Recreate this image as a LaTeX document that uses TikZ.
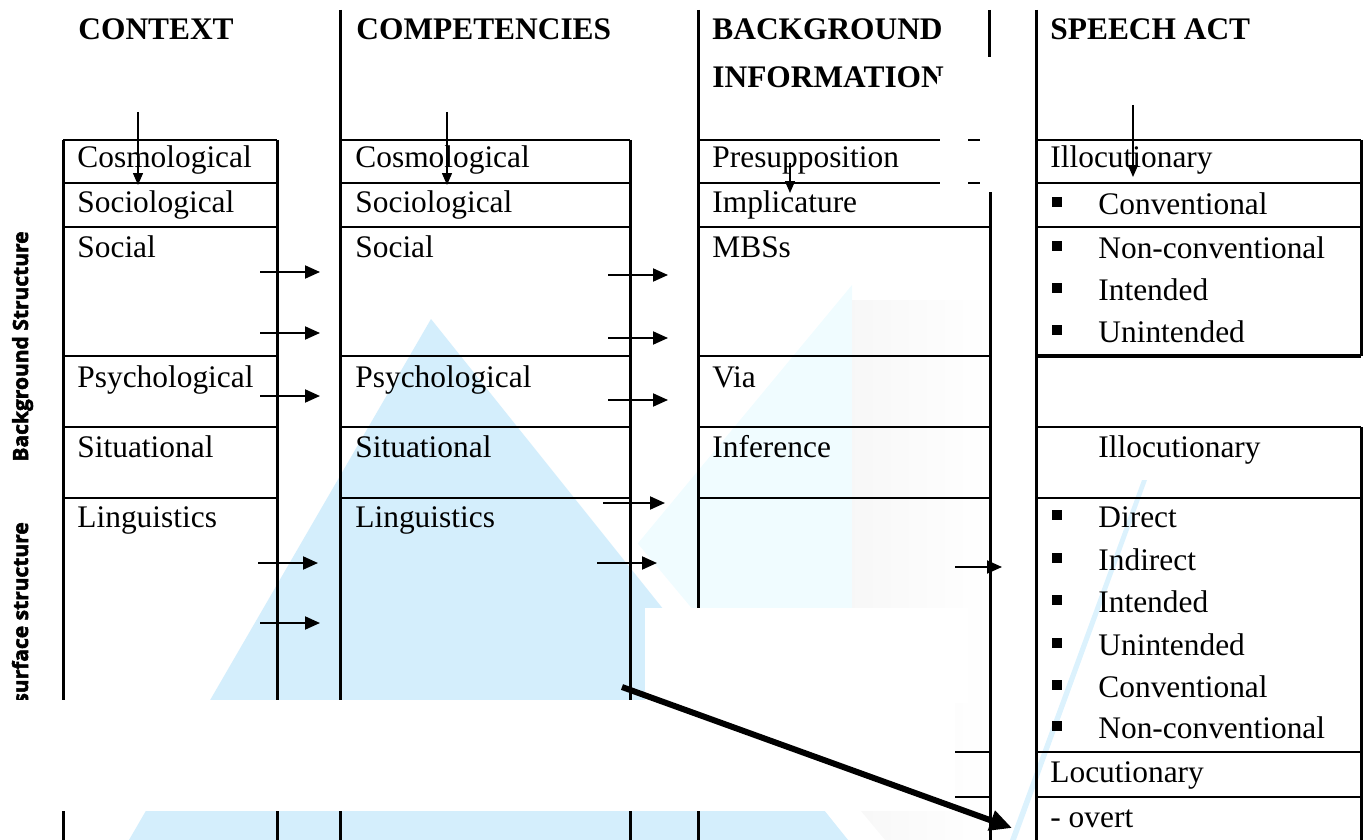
\documentclass[tikz,border=0pt]{standalone}
\usepackage{fontspec}
\setmainfont{Liberation Serif}
\newfontfamily\labelfont[BoldFeatures={FakeBold=2.5}]{Open Sans}
\usetikzlibrary{arrows.meta}

\definecolor{wmblue}{HTML}{D4EEFC}
\definecolor{wmpale}{HTML}{F0FCFF}
\definecolor{wmstripe}{HTML}{DCF2FD}

\tikzset{
  grid/.style={line width=1.5pt},
  hline/.style={line width=1.3pt},
  harrow/.style={line width=1pt, -{Triangle[length=7.5pt,width=6.5pt]}},
  varrow/.style={line width=0.7pt, -{Triangle[length=6pt,width=5pt]}},
  bigarrow/.style={line width=3pt, -{Triangle[length=11pt,width=10pt]}},
  cell/.style={anchor=base west, inner sep=0pt, font=\fontsize{15.7}{18}\selectfont},
  headtext/.style={anchor=base west, inner sep=0pt, font=\fontsize{15.7}{18}\selectfont\bfseries},
  side/.style={anchor=base west, inner sep=0pt, rotate=90,
    font=\labelfont\bfseries\fontsize{10.5}{12}\selectfont},
  bul/.style={fill=black, inner sep=0pt, minimum size=5pt}
}

\begin{document}
\begin{tikzpicture}[x=0.5pt,y=-0.5pt]
\useasboundingbox (0,0) rectangle (1365,840);

% ---- faint background emblem ----
\fill[wmpale] (852,285) -- (852,840) -- (392,840) -- cycle;
\shade[left color=black!3, right color=white] (852,300) rectangle (990,840);
\fill[white] (431,296) -- (885,840) -- (95,840) -- cycle;
\fill[wmblue] (431,319) -- (848,840) -- (129,840) -- cycle;
\fill[wmstripe] (1142,480) -- (1147,480) -- (1016,840) -- (1010,840) -- cycle;

% ---- side labels ----
\node[side] (bgs) at (28,462) {Background Structure};
\node[side] (sfs) at (28,704) {surface structure};

% ---- column: context ----
\draw[grid] (63,140) -- (63,840);
\draw[grid] (277,140) -- (277,840);
\foreach \y in {140,183,227,356,427,498} \draw[hline] (63,\y) -- (277,\y);

% ---- column: competencies ----
\draw[grid] (340,10) -- (340,840);
\draw[grid] (630,140) -- (630,840);
\foreach \y in {140,183,227,356,427,498} \draw[hline] (340,\y) -- (630,\y);

% ---- column: background information ----
\draw[grid] (698,10) -- (698,840);
\draw[grid] (989,10) -- (989,57);
\draw[grid] (990,192) -- (990,840);
\foreach \y in {140,183} {
  \draw[hline] (698,\y) -- (940,\y);
  \draw[hline] (968,\y) -- (980,\y);
}
\foreach \y in {227,356,427,498,752,797} \draw[hline] (698,\y) -- (990,\y);

% ---- column: speech act ----
\draw[grid] (1036,10) -- (1036,840);
\draw[grid] (1361,140) -- (1361,356);
\draw[grid] (1361,427) -- (1361,840);
\foreach \y in {140,183,227,427,498,752,797} \draw[hline] (1036,\y) -- (1361,\y);
\draw[line width=2pt] (1036,356) -- (1361,356);

% ---- headings ----
\node[headtext] (hctx) at (78,40) {CONTEXT};
\node[headtext] (hcomp) at (356,40) {COMPETENCIES};
\node[headtext] (hbg) at (712,40) {BACKGROUND};
\node[headtext] (hinfo) at (712,88) {INFORMATION};
\fill[white] (937,76) rectangle (952,93);
\node[headtext] (hsa) at (1050,40) {SPEECH ACT};

% ---- cells: context ----
\node[cell] (c1) at (77,168) {Cosmological};
\node[cell] (c2) at (77,213) {Sociological};
\node[cell] (c3) at (77,257) {Social};
\node[cell] (c4) at (77,387) {Psychological};
\node[cell] (c5) at (77,457) {Situational};
\node[cell] (c6) at (77,527) {Linguistics};

% ---- cells: competencies ----
\node[cell] (m1) at (355,168) {Cosmological};
\node[cell] (m2) at (355,213) {Sociological};
\node[cell] (m3) at (355,257) {Social};
\node[cell] (m4) at (355,387) {Psychological};
\node[cell] (m5) at (355,457) {Situational};
\node[cell] (m6) at (355,527) {Linguistics};

% ---- cells: background information ----
\node[cell] (g1) at (712,168) {Presupposition};
\node[cell] (g2) at (712,213) {Implicature};
\node[cell] (g3) at (712,257) {MBSs};
\node[cell] (g4) at (712,387) {Via};
\node[cell] (g5) at (712,457) {Inference};

% ---- cells: speech act ----
\node[cell] (s1) at (1050,168) {Illocutionary};
\foreach \n/\b/\t in {a/214/Conventional, b/258/Non-conventional, c/300/Intended, d/342/Unintended,
                      e/527/Direct, f/570/Indirect, g/612/Intended, h/655/Unintended,
                      i/697/Conventional, j/738/Non-conventional} {
  \node[bul] (bul\n) at (1057,\b-12) {};
  \node[cell] (item\n) at (1098,\b) {\t};
}
\node[cell] (s2) at (1098,457) {Illocutionary};
\node[cell] (s3) at (1050,782) {Locutionary};
\node[cell] (s4) at (1050,827) {- overt};

% ---- downward arrows into the first rows ----
\foreach \n/\x/\ya/\yb in {v1/138/112/185, v2/447/112/185, v3/790/163/193, v4/1133/105/177} {
  \coordinate (\n s) at (\x,\ya);
  \coordinate (\n e) at (\x,\yb);
  \draw[varrow] (\n s) -- (\n e);
}

% ---- arrows between columns ----
\foreach \n/\xa/\xb/\y in {p1/260/320/272, p2/260/320/333, p3/260/320/396, p4/258/318/563, p5/260/320/623,
                          q1/608/668/275, q2/608/668/338, q3/608/668/400, q4/603/665/503, q5/597/657/563,
                          r1/955/1002/567} {
  \coordinate (\n s) at (\xa,\y);
  \coordinate (\n e) at (\xb,\y);
  \draw[harrow] (\n s) -- (\n e);
}

% ---- blank panels laid over the lower table ----
\fill[white] (645,608) rectangle (968,703);
\fill[white] (0,700) rectangle (955,811);

% ---- long diagonal arrow ----
\coordinate (dstart) at (622,687);
\coordinate (dend) at (1012,828);
\draw[bigarrow] (dstart) -- (dend);
\end{tikzpicture}
\end{document}
